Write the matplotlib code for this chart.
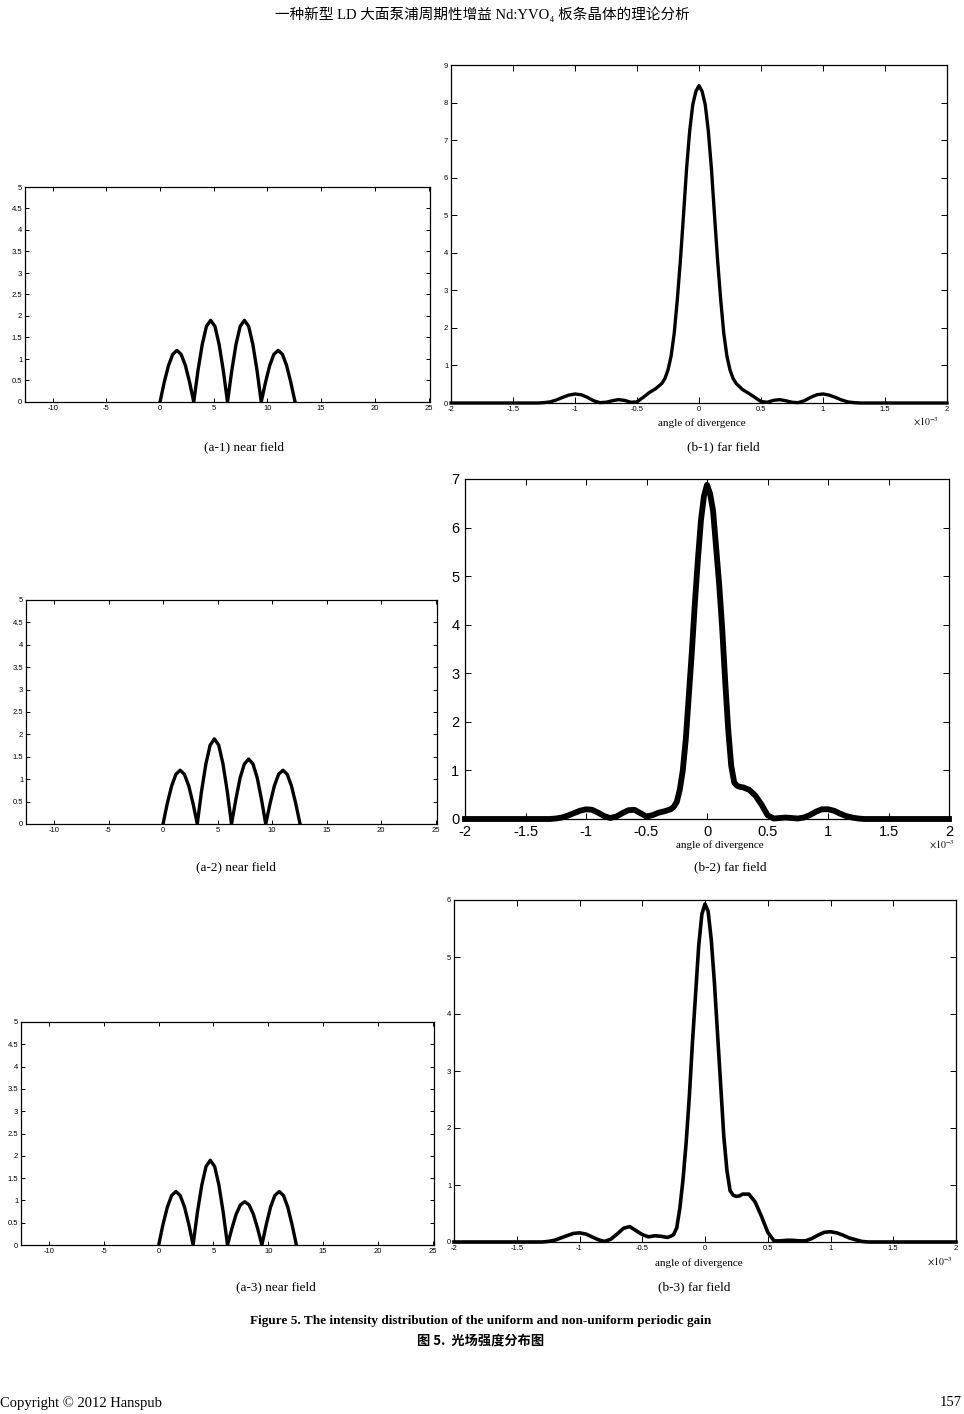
import matplotlib
matplotlib.use('Agg')
import matplotlib.pyplot as plt
from matplotlib.ticker import MultipleLocator, FormatStrFormatter

plt.rcParams['axes.unicode_minus'] = False
plt.rcParams['font.family'] = ['Liberation Sans', 'DejaVu Sans']

# near field: x positions (same for all three) and intensity
near_x = [0, 0.39, 0.79, 1.18, 1.57, 1.96, 2.36, 2.75, 3.14, 3.53, 3.93, 4.32, 4.71,
          5.11, 5.50, 5.89, 6.28, 6.68, 7.07, 7.46, 7.85, 8.25, 8.64, 9.03, 9.42,
          9.82, 10.21, 10.60, 11.00, 11.39, 11.78, 12.17, 12.57]
near_1 = [0, .46, .85, 1.11, 1.2, 1.11, .85, .46, 0,
          .73, 1.34, 1.76, 1.9, 1.76, 1.34, .73, 0,
          .73, 1.34, 1.76, 1.9, 1.76, 1.34, .73, 0,
          .46, .85, 1.11, 1.2, 1.11, .85, .46, 0]
near_2 = [0, .46, .85, 1.11, 1.2, 1.11, .85, .46, 0,
          .73, 1.34, 1.76, 1.9, 1.76, 1.34, .73, 0,
          .55, 1.03, 1.34, 1.45, 1.34, 1.03, .55, 0,
          .46, .85, 1.11, 1.2, 1.11, .85, .46, 0]
near_3 = [0, .46, .85, 1.11, 1.2, 1.11, .85, .46, 0,
          .73, 1.34, 1.76, 1.9, 1.76, 1.34, .73, 0,
          .37, .69, .90, .97, .90, .69, .37, 0,
          .46, .85, 1.11, 1.2, 1.11, .85, .46, 0]

# far field: angle (x10^-3) and intensity
far_x = [-2, -1.3, -1.25, -1.2, -1.15, -1.1, -1.05, -1.0, -0.95, -0.9, -0.85, -0.8,
         -0.75, -0.7, -0.65, -0.6, -0.55, -0.5, -0.45, -0.4, -0.35, -0.3,
         -0.275, -0.25, -0.225, -0.2, -0.175, -0.15, -0.125, -0.1, -0.075, -0.05, -0.025,
         0, 0.025, 0.05, 0.075, 0.1, 0.125, 0.15, 0.175, 0.2, 0.225, 0.25, 0.275,
         0.3, 0.35, 0.4, 0.45, 0.5, 0.55, 0.6, 0.65, 0.7, 0.75, 0.8, 0.85, 0.9, 0.95,
         1.0, 1.05, 1.1, 1.15, 1.2, 1.25, 1.3, 2]
far_1 = [0, 0, 0.01, 0.03, 0.08, 0.15, 0.21, 0.24, 0.22, 0.15, 0.06, 0.01,
         0.02, 0.06, 0.09, 0.07, 0.02, 0.03, 0.15, 0.28, 0.38, 0.52,
         0.65, 0.88, 1.25, 1.85, 2.75, 3.8, 5.0, 6.25, 7.25, 7.95, 8.3,
         8.45, 8.3, 7.95, 7.25, 6.25, 5.0, 3.8, 2.75, 1.85, 1.25, 0.88, 0.65,
         0.52, 0.36, 0.26, 0.15, 0.04, 0.02, 0.07, 0.09, 0.06, 0.02, 0.01, 0.06, 0.15, 0.22,
         0.24, 0.21, 0.15, 0.08, 0.03, 0.01, 0, 0]
far_2 = [0, 0, 0.01, 0.03, 0.07, 0.12, 0.17, 0.2, 0.19, 0.13, 0.06, 0.02,
         0.05, 0.12, 0.18, 0.19, 0.12, 0.05, 0.08, 0.13, 0.16, 0.2,
         0.25, 0.35, 0.6, 1.0, 1.65, 2.55, 3.45, 4.45, 5.35, 6.15, 6.65,
         6.88, 6.7, 6.35, 5.6, 4.85, 3.95, 2.85, 1.85, 1.1, 0.75, 0.68, 0.66,
         0.65, 0.6, 0.48, 0.3, 0.08, 0.01, 0.02, 0.03, 0.02, 0.01, 0.03, 0.08, 0.15, 0.2,
         0.2, 0.17, 0.11, 0.06, 0.03, 0.01, 0, 0]
far_3 = [0, 0, 0.01, 0.03, 0.07, 0.11, 0.15, 0.16, 0.14, 0.09, 0.04, 0.01,
         0.05, 0.14, 0.24, 0.27, 0.2, 0.13, 0.09, 0.11, 0.1, 0.08,
         0.1, 0.13, 0.25, 0.6, 1.1, 1.75, 2.55, 3.5, 4.35, 5.2, 5.75,
         5.93, 5.8, 5.3, 4.55, 3.65, 2.75, 1.85, 1.25, 0.9, 0.82, 0.8, 0.81,
         0.84, 0.84, 0.7, 0.45, 0.17, 0.02, 0.02, 0.03, 0.03, 0.02, 0.02, 0.06, 0.12, 0.17,
         0.18, 0.16, 0.12, 0.07, 0.04, 0.01, 0, 0]

W, H = 964, 1414
fig = plt.figure(figsize=(W / 100, H / 100), dpi=100)

serif = ['Liberation Serif', 'Noto Sans CJK SC', 'DejaVu Sans']


def px_axes(l, t, r, b):
    return fig.add_axes([l / W, 1 - b / H, (r - l) / W, (b - t) / H])


def px_text(x, y, s, **kw):
    fig.text(x / W, 1 - y / H, s, **kw)


def near_plot(box, y, cap, cap_xy):
    ax = px_axes(*box)
    ax.plot(near_x, y, color='black', lw=2.4)
    ax.set_xlim(-12.57, 25.13)
    ax.set_ylim(0, 5)
    ax.xaxis.set_major_locator(MultipleLocator(5))
    ax.yaxis.set_major_locator(MultipleLocator(0.5))
    ax.yaxis.set_major_formatter(FormatStrFormatter('%g'))
    ax.tick_params(direction='in', top=True, right=True, length=3, width=0.7,
                   labelsize=5.5, pad=2)
    for s in ax.spines.values():
        s.set_linewidth(0.9)
    px_text(cap_xy[0], cap_xy[1], cap, ha='center', va='center', fontsize=9.5, family=serif)


def far_plot(box, y, ymax, lw, lsize, pad, cap, cap_xy, lab_xy, exp_xy):
    ax = px_axes(*box)
    ax.plot(far_x, y, color='black', lw=lw, clip_on=False, solid_joinstyle='round')
    ax.set_xlim(-2, 2)
    ax.set_ylim(0, ymax)
    ax.xaxis.set_major_locator(MultipleLocator(0.5))
    ax.yaxis.set_major_locator(MultipleLocator(1))
    ax.xaxis.set_major_formatter(FormatStrFormatter('%g'))
    ax.tick_params(direction='in', top=True, right=True, length=4, width=0.7,
                   labelsize=lsize, pad=pad)
    for s in ax.spines.values():
        s.set_linewidth(0.9)
    px_text(lab_xy[0], lab_xy[1], 'angle of divergence', ha='center', va='center',
            fontsize=8, family=serif)
    px_text(exp_xy[0], exp_xy[1], r'$\times10^{-3}$', ha='center', va='center',
            fontsize=7, math_fontfamily='stix')
    px_text(cap_xy[0], cap_xy[1], cap, ha='center', va='center', fontsize=9.5, family=serif)


near_plot((25, 187, 430, 402), near_1, '(a-1) near field', (244, 447))
far_plot((451, 65, 947, 403), far_1, 9, 2.4, 5.5, 2, '(b-1) far field', (723, 447),
         (702, 423), (926, 422))

near_plot((26, 600, 437, 824), near_2, '(a-2) near field', (236, 867))
far_plot((465, 479, 949, 819), far_2, 7, 4.2, 10.5, 4, '(b-2) far field', (730, 867),
         (720, 845), (942, 845))

near_plot((21, 1022, 434, 1245), near_3, '(a-3) near field', (276, 1287))
far_plot((454, 900, 956, 1242), far_3, 6, 2.6, 5.5, 2, '(b-3) far field', (694, 1287),
         (699, 1263), (940, 1262))

px_text(482, 14, '一种新型 LD 大面泵浦周期性增益 Nd:YVO₄ 板条晶体的理论分析',
        ha='center', va='center', fontsize=10.5, family=serif)
px_text(481, 1321, 'Figure 5. The intensity distribution of the uniform and non-uniform periodic gain',
        ha='center', va='center', fontsize=9.5, fontweight='bold', family=serif)
px_text(481, 1340, '图 5.  光场强度分布图', ha='center', va='center', fontsize=9.5,
        fontweight='bold', family=['Noto Sans CJK SC', 'DejaVu Sans'])
px_text(0, 1403, 'Copyright © 2012 Hanspub', ha='left', va='center', fontsize=10.5, family=serif)
px_text(962, 1403, '157', ha='right', va='center', fontsize=10.5, family=serif)

fig.savefig('out.png', dpi=100)
